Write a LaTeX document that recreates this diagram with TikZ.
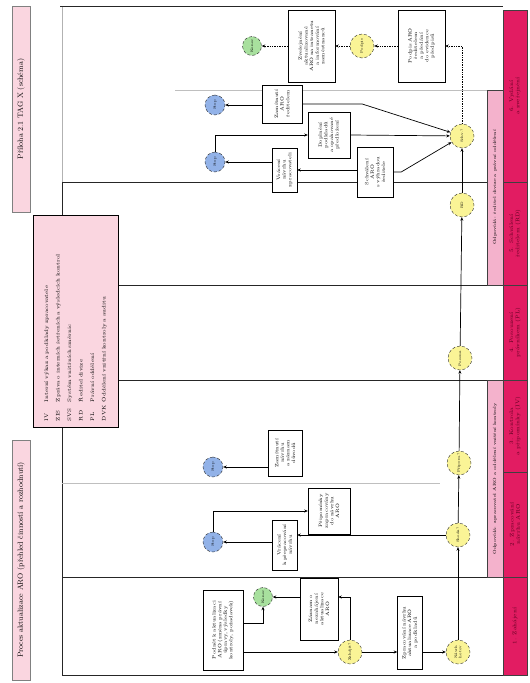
\documentclass[tikz,border=0pt]{standalone}
\usepackage{tikz}
\usetikzlibrary{arrows.meta}
\definecolor{phasered}{RGB}{226,28,98}
\definecolor{phasetext}{RGB}{90,0,30}
\definecolor{subpink}{RGB}{244,178,204}
\definecolor{titlepink}{RGB}{250,214,224}
\definecolor{gateyellow}{RGB}{250,244,150}
\definecolor{endgreen}{RGB}{168,224,158}
\definecolor{stopblue}{RGB}{146,178,232}
\tikzset{
  task/.style={rectangle,draw=black,fill=white,rotate=90,align=center,
               font=\fontsize{4.8}{5.6}\selectfont,inner sep=1pt},
  gate/.style={circle,draw=black!85,densely dashed,fill=gateyellow,rotate=90,
               minimum size=24pt,inner sep=0pt,align=center,
               font=\fontsize{3.6}{4.2}\selectfont},
  endev/.style={gate,fill=endgreen,minimum size=19pt},
  stopev/.style={gate,fill=stopblue,minimum size=20pt},
  flow/.style={-{Stealth[length=3.5pt,width=3pt]},line width=0.7pt},
  dflow/.style={flow,densely dotted},
  lane/.style={line width=0.9pt,black!85},
  phase/.style={rectangle,draw=black!75,fill=phasered,text=phasetext,rotate=90,
                minimum height=24pt,align=center,font=\fontsize{5.3}{6.3}\selectfont},
  subphase/.style={rectangle,draw=black!75,fill=subpink,rotate=90,
                   minimum height=16pt,align=center,font=\fontsize{4.5}{5}\selectfont},
  titlebox/.style={rectangle,draw=black!50,fill=titlepink,rotate=90,
                   minimum height=18pt,align=center,font=\fontsize{7.5}{8}\selectfont},
}
\begin{document}
\begin{tikzpicture}[x=1pt,y=-1pt]
  \useasboundingbox (0,0) rectangle (530,683);
  % lanes
  \draw[black!30] (62,6) -- (62,182);
  \draw[lane] (60,6) -- (503,6);
  \draw[lane] (62,182) -- (62,675) -- (503,675);
  \foreach \y in {182,285,380,577}
    \draw[lane] (62,\y) -- (487,\y);
  \draw[black!25] (175,90) -- (487,90);
  \draw[black!25] (62,483) -- (440,483);

  % phases
  \node[phase,minimum width=98pt]  (ph1) at (515,626)   {1. Zahájení};
  \node[phase,minimum width=105pt] (ph2) at (515,524.5) {2. Zpracování\\návrhu ARO};
  \node[phase,minimum width=92pt]  (ph3) at (515,426)   {3. Kontrola\\a připomínky (IV)};
  \node[phase,minimum width=95pt]  (ph4) at (515,332.5) {4. Posouzení\\právníkem (PL)};
  \node[phase,minimum width=103pt] (ph5) at (515,233.5) {5. Schválení\\ředitelem (RD)};
  \node[phase,minimum width=172pt] (ph6) at (515,96)    {6. Vydání\\a zveřejnění};
  \node[subphase,minimum width=197pt] (sub1) at (495,478.5)
    {Odpovídá: zpracovatel ARO a oddělení vnitřní kontroly};
  \node[subphase,minimum width=195pt] (sub2) at (495,187.5)
    {Odpovídá: ředitel divize a právní oddělení};

  % titles and legend
  \node[titlebox,minimum width=240pt] (title) at (21,560)
    {Proces aktualizace ARO (přehled činností a rozhodnutí)};
  \node[titlebox,minimum width=206pt] (tag) at (21,109)
    {Příloha 2.1 TAG X (schéma)};
  \node[rectangle,draw=black,fill=titlepink,rotate=90,minimum width=212pt,
        minimum height=85pt,text width=200pt,align=left,
        font=\fontsize{5.2}{11.5}\selectfont] (legend) at (75.5,321)
    {\makebox[19pt][l]{IV}Interní výkaz a podklady zpracovatele\\
     \makebox[19pt][l]{ZIS}Zpráva o interních šetřeních a výsledcích kontrol\\
     \makebox[19pt][l]{SVS}Systém vnitřních směrnic\\
     \makebox[19pt][l]{RD}Ředitel divize\\
     \makebox[19pt][l]{PL}Právní oddělení\\
     \makebox[19pt][l]{DVK}Oddělení vnitřní kontroly a auditu};

  % phase 1
  \node[task,minimum width=80pt,minimum height=40pt,text width=74pt] (A) at (223,630)
    {Podnět k aktualizaci\\ARO (změna právní\\úpravy, výsledky\\kontroly, požadavek)};
  \node[endev] (G1) at (263,597) {Konec};
  \node[task,minimum width=62pt,minimum height=38pt,text width=56pt] (B) at (319,609)
    {Záznam o\\nezahájení\\aktualizace\\ARO};
  \node[gate] (Y1) at (350,652) {Zahájit?};
  \node[task,minimum width=73pt,minimum height=25pt,text width=67pt] (C) at (410,633)
    {Zpracování návrhu\\aktualizace ARO\\a podkladů};
  \node[gate] (Y2) at (458,652) {Návrh\\hotov};

  % phases 2 and 3
  \node[gate] (Y3) at (458,535) {Shoda?};
  \node[gate] (Y4) at (459,463) {Připom.?};
  \node[task,minimum width=50pt,minimum height=25pt,text width=44pt] (F) at (284.5,545)
    {Vrácení\\k přepracování\\návrhu};
  \node[task,minimum width=46pt,minimum height=42pt,text width=40pt] (G) at (329,511)
    {Připomínky\\zapracovány\\do návrhu\\ARO};
  \node[task,minimum width=46pt,minimum height=34pt,text width=40pt] (H) at (285,453)
    {Zamítnutí\\návrhu\\a záznam\\důvodů};
  \node[stopev] (B1) at (213,542) {Stop};
  \node[stopev] (B2) at (213,467) {Stop};

  % phases 4 to 6
  \node[gate] (Y5) at (460,358) {Posouz.};
  \node[gate] (Y6) at (462,205) {RD};
  \node[gate] (M) at (462,136) {Schv.?};
  \node[task,minimum width=46pt,minimum height=42pt,text width=40pt] (J) at (329,135)
    {Doplnění\\podkladů\\a opakované\\předložení};
  \node[task,minimum width=44pt,minimum height=25pt,text width=38pt] (I) at (284.5,170)
    {Vrácení\\návrhu\\zpracovateli};
  \node[task,minimum width=50pt,minimum height=36pt,text width=44pt] (K) at (375,172)
    {Schválení\\ARO\\s výhradou\\ředitele};
  \node[task,minimum width=38pt,minimum height=40pt,text width=34pt] (L) at (282,104)
    {Zamítnutí\\ARO\\ředitelem};
  \node[stopev] (B3) at (215,105) {Stop};
  \node[stopev] (B4) at (215,162) {Stop};
  \node[task,minimum width=72pt,minimum height=47pt,text width=66pt] (D) at (311.5,46)
    {Zveřejnění\\aktualizované\\ARO na intranetu\\a informování\\zaměstnanců};
  \node[gate] (Yt) at (362,46) {Podpis};
  \node[task,minimum width=72pt,minimum height=47pt,text width=66pt] (E) at (421.5,46)
    {Podpis ARO\\ředitelem\\a předání\\do evidence\\předpisů};
  \node[endev] (Gt) at (252,46) {Konec};

  % flows
  \draw[flow] ([yshift=7pt]A.south) -| (G1);
  \draw[flow] ([yshift=-22pt]A.south) -- (Y1);
  \draw[flow] ([yshift=12pt]B.north) -- (G1);
  \draw[flow] (Y1) |- ([yshift=12pt]B.south);
  \draw[flow] (Y1) -- (Y1 -| C.north);
  \draw[flow] (Y1 -| C.south) -- (Y2);
  \draw[flow] (Y2) -- (Y3);
  \draw[flow] (Y3) -- (Y3 -| F.south);
  \draw[flow] (F.north |- B1) -- (B1);
  \draw[flow] (B1) |- (G.north);
  \draw[flow] (H.north |- B2) -- (B2);
  \draw[flow] (Y3) -- (Y4);
  \draw[flow] (Y4) -- (Y5);
  \draw[flow] (Y5) -- (Y6);
  \draw[flow] (Y6) -- (M);
  \draw[flow] (B4) |- (J.north);
  \draw[flow] (I.north |- B4) -- (B4);
  \draw[flow] (K.north |- I.south) -- (I.south);
  \draw[flow] (J.south) -- (M);
  \draw[flow] (K.south) -- ++(8,0) -- (M);
  \draw[flow] (L.north |- B3) -- (B3);
  \draw[flow] (L.south) -- ++(60,0) -- (M);
  \draw[dflow] (M) |- (E.south);
  \draw[dflow] (E.north) -- (Yt);
  \draw[dflow] (Yt) -- (D.south);
  \draw[dflow] (D.north) -- (Gt);
\end{tikzpicture}
\end{document}
